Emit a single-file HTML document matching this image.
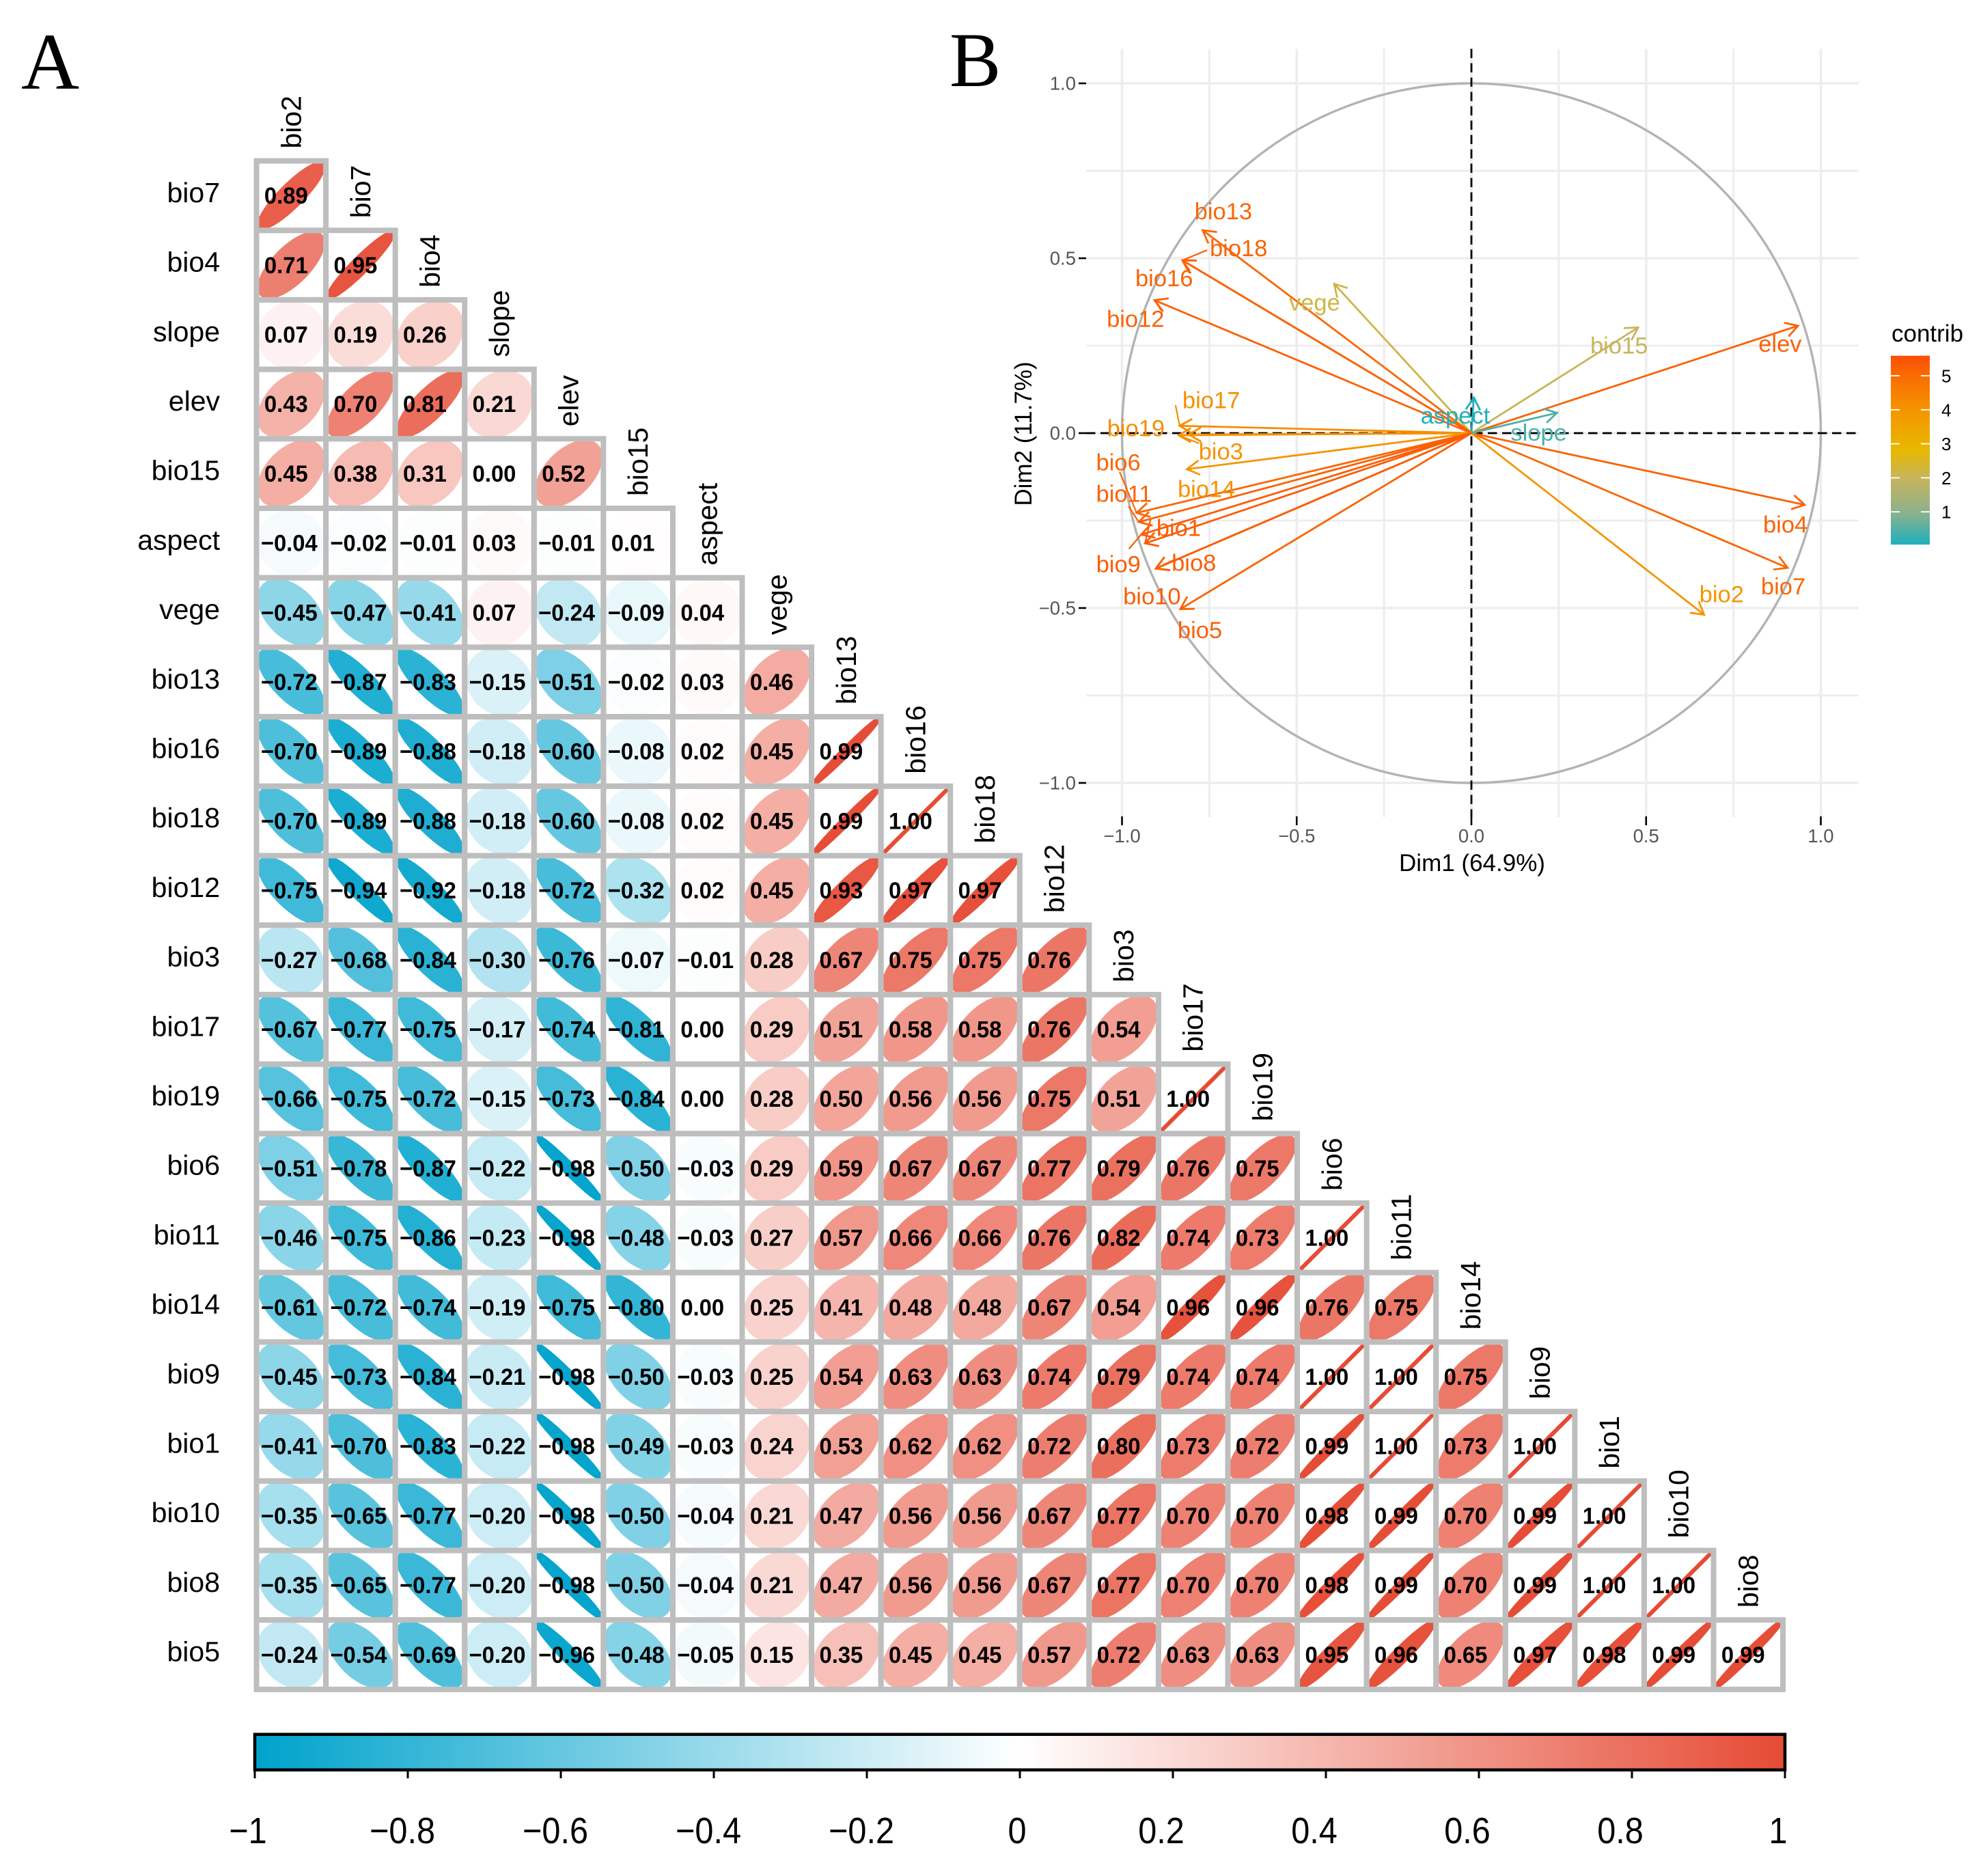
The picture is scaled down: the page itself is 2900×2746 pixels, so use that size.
<!DOCTYPE html>
<html lang="en">
<head>
<meta charset="utf-8">
<title>Correlation matrix and PCA variable plot</title>
<style>
html,body{margin:0;padding:0;background:#fff;}
svg{display:block;}
text{font-family:"Liberation Sans",sans-serif;}
</style>
</head>
<body>
<svg id="figure" xmlns="http://www.w3.org/2000/svg" width="2900" height="2746" viewBox="0 0 2900 2746">
  <defs>
    <linearGradient id="corrGrad" x1="0" x2="1" y1="0" y2="0">
      <stop offset="0" stop-color="#00A3CC"/>
      <stop offset="0.5" stop-color="#FFFFFF"/>
      <stop offset="1" stop-color="#E64B35"/>
    </linearGradient>
    <linearGradient id="contribGrad" x1="0" x2="0" y1="1" y2="0">
      <stop offset="0" stop-color="#1FB0BD"/>
      <stop offset="0.17" stop-color="#8DB18C"/>
      <stop offset="0.35" stop-color="#C6B55D"/>
      <stop offset="0.5" stop-color="#E7B800"/>
      <stop offset="0.71" stop-color="#F59500"/>
      <stop offset="0.89" stop-color="#FA6C02"/>
      <stop offset="1" stop-color="#FC4E07"/>
    </linearGradient>
  </defs>
  <rect x="0" y="0" width="2900" height="2746" fill="#ffffff"/>
  <text x="31" y="130" font-size="118" fill="#000" style="font-family:'Liberation Serif',serif">A</text>
  <text x="1390" y="126" font-size="113" fill="#000" style="font-family:'Liberation Serif',serif">B</text>
  <g id="corr-matrix"></g>
  <g id="corr-colorbar">
    <rect x="373" y="2538.7" width="2240" height="52" fill="url(#corrGrad)" stroke="#000" stroke-width="4.5"/>
  </g>
  <g id="pca-plot"></g>
  <g id="contrib-legend">
    <text x="2769" y="500" font-size="35" fill="#000">contrib</text>
    <rect x="2768" y="520.7" width="57" height="276.5" fill="url(#contribGrad)"/>
  </g>
</svg>
<script>
/* ---------- Panel A data ---------- */
const rowLabels = ["bio7","bio4","slope","elev","bio15","aspect","vege","bio13","bio16","bio18","bio12","bio3","bio17","bio19","bio6","bio11","bio14","bio9","bio1","bio10","bio8","bio5"];
const colLabels = ["bio2","bio7","bio4","slope","elev","bio15","aspect","vege","bio13","bio16","bio18","bio12","bio3","bio17","bio19","bio6","bio11","bio14","bio9","bio1","bio10","bio8"];
const corrValues = [
[0.89],
[0.71,0.95],
[0.07,0.19,0.26],
[0.43,0.70,0.81,0.21],
[0.45,0.38,0.31,0.00,0.52],
[-0.04,-0.02,-0.01,0.03,-0.01,0.01],
[-0.45,-0.47,-0.41,0.07,-0.24,-0.09,0.04],
[-0.72,-0.87,-0.83,-0.15,-0.51,-0.02,0.03,0.46],
[-0.70,-0.89,-0.88,-0.18,-0.60,-0.08,0.02,0.45,0.99],
[-0.70,-0.89,-0.88,-0.18,-0.60,-0.08,0.02,0.45,0.99,1.00],
[-0.75,-0.94,-0.92,-0.18,-0.72,-0.32,0.02,0.45,0.93,0.97,0.97],
[-0.27,-0.68,-0.84,-0.30,-0.76,-0.07,-0.01,0.28,0.67,0.75,0.75,0.76],
[-0.67,-0.77,-0.75,-0.17,-0.74,-0.81,0.00,0.29,0.51,0.58,0.58,0.76,0.54],
[-0.66,-0.75,-0.72,-0.15,-0.73,-0.84,0.00,0.28,0.50,0.56,0.56,0.75,0.51,1.00],
[-0.51,-0.78,-0.87,-0.22,-0.98,-0.50,-0.03,0.29,0.59,0.67,0.67,0.77,0.79,0.76,0.75],
[-0.46,-0.75,-0.86,-0.23,-0.98,-0.48,-0.03,0.27,0.57,0.66,0.66,0.76,0.82,0.74,0.73,1.00],
[-0.61,-0.72,-0.74,-0.19,-0.75,-0.80,0.00,0.25,0.41,0.48,0.48,0.67,0.54,0.96,0.96,0.76,0.75],
[-0.45,-0.73,-0.84,-0.21,-0.98,-0.50,-0.03,0.25,0.54,0.63,0.63,0.74,0.79,0.74,0.74,1.00,1.00,0.75],
[-0.41,-0.70,-0.83,-0.22,-0.98,-0.49,-0.03,0.24,0.53,0.62,0.62,0.72,0.80,0.73,0.72,0.99,1.00,0.73,1.00],
[-0.35,-0.65,-0.77,-0.20,-0.98,-0.50,-0.04,0.21,0.47,0.56,0.56,0.67,0.77,0.70,0.70,0.98,0.99,0.70,0.99,1.00],
[-0.35,-0.65,-0.77,-0.20,-0.98,-0.50,-0.04,0.21,0.47,0.56,0.56,0.67,0.77,0.70,0.70,0.98,0.99,0.70,0.99,1.00,1.00],
[-0.24,-0.54,-0.69,-0.20,-0.96,-0.48,-0.05,0.15,0.35,0.45,0.45,0.57,0.72,0.63,0.63,0.95,0.96,0.65,0.97,0.98,0.99,0.99]
];
const corrTicks = [-1,-0.8,-0.6,-0.4,-0.2,0,0.2,0.4,0.6,0.8,1];

/* ---------- Panel B data ---------- */
const pcaNames = ["elev","bio4","bio7","bio2","bio15","slope","aspect","vege","bio13","bio18","bio16","bio12","bio17","bio19","bio14","bio3","bio6","bio11","bio9","bio1","bio10","bio8","bio5"];
const pcaDim1 = [0.935,0.954,0.905,0.666,0.477,0.245,0.007,-0.393,-0.769,-0.827,-0.827,-0.907,-0.835,-0.809,-0.838,-0.814,-0.958,-0.952,-0.945,-0.934,-0.903,-0.903,-0.833];
const pcaDim2 = [0.307,-0.205,-0.385,-0.519,0.302,0.058,0.102,0.427,0.580,0.494,0.494,0.380,0.021,-0.004,-0.006,-0.103,-0.228,-0.254,-0.290,-0.315,-0.387,-0.387,-0.503];
const pcaContrib = [5.2,5.2,5.1,4.0,2.0,0.45,0.06,2.2,5.1,5.2,5.2,5.2,4.2,4.2,4.1,4.0,5.1,5.2,5.3,5.3,5.3,5.3,5.2];
const pcaTicks = [-1,-0.5,0,0.5,1];
const pcaMinorTicks = [-0.75,-0.25,0.25,0.75];
const contribTicks = [1,2,3,4,5];

/* ---------- helpers ---------- */
const SVGNS = "http://www.w3.org/2000/svg";
function mk(tag, attrs, parent) {
  const n = document.createElementNS(SVGNS, tag);
  for (const k in attrs) n.setAttribute(k, attrs[k]);
  parent.appendChild(n);
  return n;
}
function minusFmt(s) { return s.replace("-", "\u2212"); }

/* ---------- Panel A ---------- */
const gridX0 = 375.5, gridY0 = 235.5, pitchX = 101.57, pitchY = 101.7;
const cellX = j => gridX0 + j * pitchX;
const cellY = i => gridY0 + i * pitchY;
function corrColor(r) {
  const end = r >= 0 ? [230,75,53] : [0,163,204];
  const a = Math.min(1, Math.abs(r));
  const c = end.map(v => Math.round(255 + (v - 255) * a));
  return "rgb(" + c.join(",") + ")";
}
function ellipsePoints(r, cx, cy, R) {
  const d = Math.acos(Math.max(-1, Math.min(1, r)));
  const pts = [];
  for (let k = 0; k < 72; k++) {
    const t = k / 72 * 2 * Math.PI;
    pts.push((cx + R * Math.cos(t + d / 2)).toFixed(1) + "," + (cy - R * Math.cos(t - d / 2)).toFixed(1));
  }
  return pts.join(" ");
}
const matrixG = document.getElementById("corr-matrix");
corrValues.forEach((row, i) => {
  row.forEach((v, j) => {
    const color = corrColor(v);
    const e = mk("polygon", {points: ellipsePoints(v, cellX(j) + pitchX / 2, cellY(i) + pitchY / 2, 46.5), fill: color, stroke: color, "stroke-width": 6, "stroke-linejoin": "round"}, matrixG);
    
    
  });
});
corrValues.forEach((row, i) => {
  row.forEach((v, j) => {
    const c = mk("rect", {x: cellX(j), y: cellY(i), width: pitchX, height: pitchY, fill: "none", stroke: "#BEBEBE", "stroke-width": 8}, matrixG);
    
    
  });
});
corrValues.forEach((row, i) => {
  row.forEach((v, j) => {
    const tx = cellX(j) + pitchX / 2 - (v >= 0 ? 7.5 : 3);
    const ty = cellY(i) + pitchY / 2 + 11.7;
    const t = mk("text", {transform: "translate(" + tx + "," + ty + ") scale(0.95,1)", "text-anchor": "middle", "font-size": 34.5, "font-weight": "bold", fill: "#000"}, matrixG);
    t.textContent = minusFmt(v.toFixed(2));
    
    
  });
});
rowLabels.forEach((s, i) => {
  const t = mk("text", {x: 322, y: cellY(i) + pitchY / 2 + 9.5, "text-anchor": "end", "font-size": 41, fill: "#000"}, matrixG);
  t.textContent = s;
  
  
});
colLabels.forEach((s, j) => {
  const bx = cellX(j) + pitchX / 2 + 14, by = gridY0 + j * pitchY - 18;
  const t = mk("text", {transform: "translate(" + bx + "," + by + ") rotate(-90)", "font-size": 41, fill: "#000"}, matrixG);
  t.textContent = s;
  
  
});

/* ---------- Panel A colour bar ---------- */
const barG = document.getElementById("corr-colorbar");
const barX = v => 373 + (v + 1) / 2 * 2240;
corrTicks.forEach(v => {
  const tick = mk("line", {x1: barX(v), x2: barX(v), y1: 2592, y2: 2603, stroke: "#000", "stroke-width": 3}, barG);
  
  
  const s = String(v);
  const isInt = Number.isInteger(v);
  const off = isInt ? (v === 0 ? -4 : -10) : (v < 0 ? -8 : -17);
  const t = mk("text", {transform: "translate(" + (barX(v) + off) + ",2698) scale(0.9,1)", "text-anchor": "middle", "font-size": 54, fill: "#000"}, barG);
  t.textContent = minusFmt(s);
  
  
});

/* ---------- Panel B ---------- */
const pcaX = v => 2154 + v * 511.5;
const pcaY = v => 634 - v * 512;
const panelL = 1590, panelR = 2720.6, panelT = 71.5, panelB = 1196;
const pcaG = document.getElementById("pca-plot");
function gridLines(vals, w, kind) {
  vals.forEach(v => {
    const gv = mk("line", {x1: pcaX(v), x2: pcaX(v), y1: panelT, y2: panelB, stroke: "#EDEDED", "stroke-width": w}, pcaG);
    
    
    const gh = mk("line", {x1: panelL, x2: panelR, y1: pcaY(v), y2: pcaY(v), stroke: "#EDEDED", "stroke-width": w}, pcaG);
    
    
  });
}
gridLines(pcaMinorTicks, 3, "minor");
gridLines(pcaTicks, 3.5, "major");

const circle = mk("ellipse", {cx: pcaX(0), cy: pcaY(0), rx: 511.5, ry: 512, fill: "none", stroke: "#B3B3B3", "stroke-width": 3.4}, pcaG);



const zeroH = mk("line", {x1: panelL, x2: panelR, y1: pcaY(0), y2: pcaY(0), stroke: "#000", "stroke-width": 2.8, "stroke-dasharray": "13.5 7.5"}, pcaG);


const zeroV = mk("line", {x1: pcaX(0), x2: pcaX(0), y1: panelT, y2: panelB, stroke: "#000", "stroke-width": 2.8, "stroke-dasharray": "13.5 7.5"}, pcaG);



function hexToRgb(h) { return [1,3,5].map(i => parseInt(h.substr(i,2),16)); }
const rampStops = [[0.05,"#1FB0BD"],[1,"#8DB18C"],[2,"#C6B55D"],[2.82,"#E7B800"],[4,"#F59500"],[5,"#FA6C02"],[5.6,"#FC4E07"]];
function contribColor(v) {
  for (let i = 1; i < rampStops.length; i++) {
    if (v <= rampStops[i][0]) {
      const a = rampStops[i-1], b = rampStops[i];
      const f = Math.max(0, (v - a[0]) / (b[0] - a[0]));
      const ca = hexToRgb(a[1]), cb = hexToRgb(b[1]);
      return "rgb(" + ca.map((c, k) => Math.round(c + (cb[k] - c) * f)).join(",") + ")";
    }
  }
  return rampStops[rampStops.length - 1][1];
}
/* label placement relative to arrow tips (repel layout, not data) */
const labelOffset = {elev:[-58,38],bio4:[-61,40.5],bio7:[-39,39],bio2:[-7,-18],bio15:[-70,38],slope:[-68,40.5],aspect:[-78,38],vege:[-66,39],bio13:[-12,-16],bio18:[40,-6],bio16:[-69,38],bio12:[-70,39],bio17:[4,-25.6],bio19:[-119.5,2.4],bio14:[-1.4,90.5],bio3:[17,-14],bio6:[-59.5,-62],bio11:[-62.5,-29.6],bio9:[-66,55],bio1:[16.6,-11],bio10:[-48,52.5],bio8:[23,3.4],bio5:[-4,42.5]};
const connectorOffset = {bio18:[36,-15],bio16:[11,15],bio12:[10,15],bio17:[-6,-30],bio14:[30,12],bio6:[-25,-60],bio11:[-15,-23],bio9:[-18,21],bio1:[8,-35],bio8:[25,-12]};

pcaNames.forEach((name, i) => {
  const color = contribColor(pcaContrib[i]);
  const tx = pcaX(pcaDim1[i]), ty = pcaY(pcaDim2[i]);
  const ox = pcaX(0), oy = pcaY(0);
  const shaft = mk("line", {x1: ox, y1: oy, x2: tx, y2: ty, stroke: color, "stroke-width": 2.8}, pcaG);
  
  
  const ang = Math.atan2(oy - ty, ox - tx);
  const len = 21, spread = Math.PI / 6;
  const head = "M" + (tx + len * Math.cos(ang + spread)) + " " + (ty + len * Math.sin(ang + spread)) +
    "L" + tx + " " + ty + "L" + (tx + len * Math.cos(ang - spread)) + " " + (ty + len * Math.sin(ang - spread));
  const h = mk("path", {d: head, fill: "none", stroke: color, "stroke-width": 2.8}, pcaG);
  
  
  if (connectorOffset[name]) {
    const co = connectorOffset[name];
    const cn = mk("line", {x1: tx, y1: ty, x2: tx + co[0], y2: ty + co[1], stroke: color, "stroke-width": 2.2}, pcaG);
    
    
  }
});
pcaNames.forEach((name, i) => {
  const color = contribColor(pcaContrib[i]);
  const lo = labelOffset[name];
  const t = mk("text", {x: pcaX(pcaDim1[i]) + lo[0], y: pcaY(pcaDim2[i]) + lo[1], "font-size": 34.5, fill: color}, pcaG);
  t.textContent = name;
  
  
});
pcaTicks.forEach(v => {
  const xt = mk("line", {x1: pcaX(v), x2: pcaX(v), y1: 1195, y2: 1208, stroke: "#000", "stroke-width": 2.6}, pcaG);
  
  
  const xl = mk("text", {x: pcaX(v), y: 1233, "text-anchor": "middle", "font-size": 27.5, fill: "#555555"}, pcaG);
  xl.textContent = minusFmt(v.toFixed(1));
  
  
  const yt = mk("line", {x1: panelL - 11, x2: panelL, y1: pcaY(v), y2: pcaY(v), stroke: "#000", "stroke-width": 2.6}, pcaG);
  
  
  const yl = mk("text", {x: 1575, y: pcaY(v) + 9.5, "text-anchor": "end", "font-size": 27.5, fill: "#555555"}, pcaG);
  yl.textContent = minusFmt(v.toFixed(1));
  
  
});
const xTitle = mk("text", {x: 2155, y: 1275, "text-anchor": "middle", "font-size": 35, fill: "#000"}, pcaG);
xTitle.textContent = "Dim1 (64.9%)";


const yTitle = mk("text", {transform: "translate(1510,635) rotate(-90)", "text-anchor": "middle", "font-size": 35, fill: "#000"}, pcaG);
yTitle.textContent = "Dim2 (11.7%)";



/* ---------- contrib legend ---------- */
const legendG = document.getElementById("contrib-legend");
const legendY = v => 550 + (5 - v) * 49.8;
contribTicks.forEach(v => {
  const a = mk("line", {x1: 2768, x2: 2781, y1: legendY(v), y2: legendY(v), stroke: "#fff", "stroke-width": 1.8}, legendG);
  
  
  const b = mk("line", {x1: 2812, x2: 2825, y1: legendY(v), y2: legendY(v), stroke: "#fff", "stroke-width": 1.8}, legendG);
  
  
  const t = mk("text", {x: 2842, y: legendY(v) + 9.5, "font-size": 26, fill: "#000"}, legendG);
  t.textContent = String(v);
  
  
});
</script>
</body>
</html>
